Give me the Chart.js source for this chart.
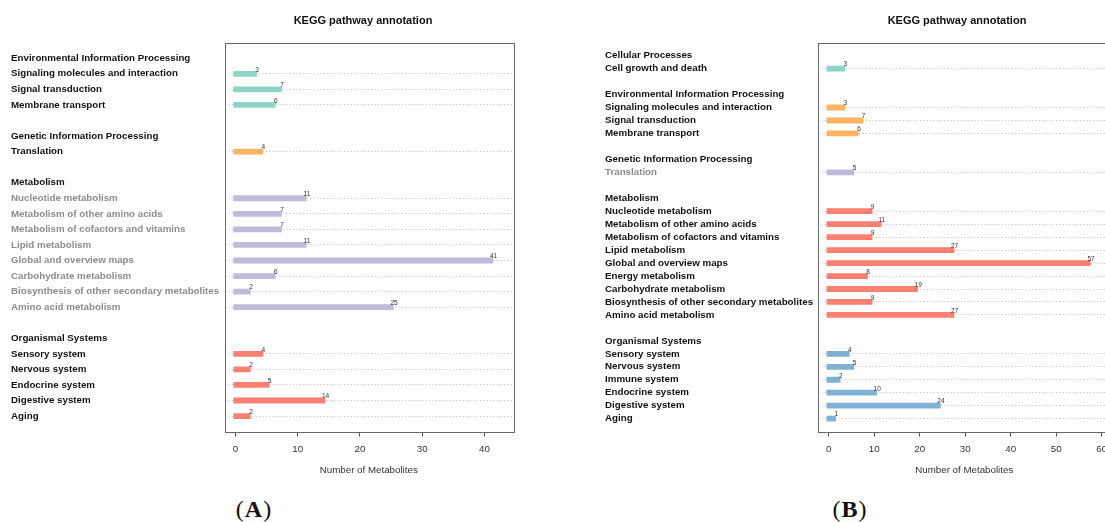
<!DOCTYPE html>
<html>
<head>
<meta charset="utf-8">
<script src="https://cdn.jsdelivr.net/npm/chart.js@4/dist/chart.umd.min.js"></script>
<style>
  html, body { margin: 0; padding: 0; background: #fff; overflow: hidden; }
  body { position: relative; width: 1105px; height: 522px; }
  canvas { position: absolute; top: 0; }
  .cap { position: absolute; top: 497px; width: 80px; text-align: center;
         font-family: 'Liberation Serif', 'DejaVu Serif', serif; font-size: 24px;
         line-height: 24px; letter-spacing: 1px; color: #111; }
</style>
</head>
<body>
<canvas id="chartA" width="704" height="476" style="left:11px"></canvas>
<canvas id="chartB" width="704" height="476" style="left:605px"></canvas>
<div class="cap" style="left:214px">(<b>A</b>)</div>
<div class="cap" style="left:810px">(<b>B</b>)</div>
<script>
// ---- Panel A: KEGG classes, pathways and metabolite counts ----
const classesA = ['Environmental Information Processing', 'Genetic Information Processing', 'Metabolism', 'Organismal Systems'];
const pathwaysA = [
  ['Signaling molecules and interaction', 'Signal transduction', 'Membrane transport'],
  ['Translation'],
  ['Nucleotide metabolism', 'Metabolism of other amino acids', 'Metabolism of cofactors and vitamins',
   'Lipid metabolism', 'Global and overview maps', 'Carbohydrate metabolism',
   'Biosynthesis of other secondary metabolites', 'Amino acid metabolism'],
  ['Sensory system', 'Nervous system', 'Endocrine system', 'Digestive system', 'Aging']
];
const countsA = [[3, 7, 6], [4], [11, 7, 7, 11, 41, 6, 2, 25], [4, 2, 5, 14, 2]];
const barColorsA = ['#8DD3C7', '#FDB462', '#BEBADA', '#FB8072'];
const greyClassA = [false, false, true, false];
const xTicksA = [0, 10, 20, 30, 40];

// ---- Panel B ----
const classesB = ['Cellular Processes', 'Environmental Information Processing', 'Genetic Information Processing', 'Metabolism', 'Organismal Systems'];
const pathwaysB = [
  ['Cell growth and death'],
  ['Signaling molecules and interaction', 'Signal transduction', 'Membrane transport'],
  ['Translation'],
  ['Nucleotide metabolism', 'Metabolism of other amino acids', 'Metabolism of cofactors and vitamins',
   'Lipid metabolism', 'Global and overview maps', 'Energy metabolism', 'Carbohydrate metabolism',
   'Biosynthesis of other secondary metabolites', 'Amino acid metabolism'],
  ['Sensory system', 'Nervous system', 'Immune system', 'Endocrine system', 'Digestive system', 'Aging']
];
const countsB = [[3], [3, 7, 6], [5], [9, 11, 9, 27, 57, 8, 19, 9, 27], [4, 5, 2, 10, 24, 1]];
const barColorsB = ['#8DD3C7', '#FDB462', '#BEBADA', '#FB8072', '#80B1D3'];
const greyClassB = [false, false, true, false, false];
const xTicksB = [0, 10, 20, 30, 40, 50, 60];

const FONT = "'Liberation Sans', Arial, Helvetica, sans-serif";
const INK = '#111111';
const GREY_INK = '#8c8c8c';

// Flatten classes into rows: class header, its pathways, blank spacer row.
function buildRows(classes, pathways, counts, colors, greyClass) {
  const labels = [''], values = [null], fills = ['rgba(0,0,0,0)'], inks = [INK];
  classes.forEach((cls, g) => {
    if (g > 0) { labels.push(''); values.push(null); fills.push('rgba(0,0,0,0)'); inks.push(INK); }
    labels.push(cls); values.push(null); fills.push('rgba(0,0,0,0)'); inks.push(INK);
    pathways[g].forEach((p, k) => {
      labels.push(p); values.push(counts[g][k]); fills.push(colors[g]);
      inks.push(greyClass[g] ? GREY_INK : INK);
    });
  });
  labels.push(''); values.push(null); fills.push('rgba(0,0,0,0)'); inks.push(INK);
  return { labels, values, fills, inks };
}

// Frame around the plotting region
const framePlugin = {
  id: 'frame',
  beforeDatasetsDraw(chart) {
    const { ctx, chartArea: a } = chart;
    ctx.save();
    ctx.strokeStyle = '#666';
    ctx.lineWidth = 1;
    ctx.strokeRect(Math.round(a.left) + 0.5, Math.round(a.top) + 0.5,
                   Math.round(a.right - a.left), Math.round(a.bottom - a.top));
    ctx.restore();
  }
};

// Count written just past the end of each bar
const countLabelPlugin = {
  id: 'countLabels',
  afterDatasetsDraw(chart) {
    const { ctx } = chart;
    const ds = chart.data.datasets[0];
    const meta = chart.getDatasetMeta(0);
    ctx.save();
    ctx.font = '6.5px ' + FONT;
    ctx.fillStyle = '#333';
    ctx.textAlign = 'center';
    ctx.textBaseline = 'middle';
    meta.data.forEach((el, i) => {
      const v = ds.data[i];
      if (v === null || v === undefined) return;
      ctx.fillText(String(v), el.x + 3, el.y - 4);
    });
    ctx.restore();
  }
};

function makeChart(id, rows, cfg) {
  return new Chart(document.getElementById(id), {
    type: 'bar',
    data: {
      labels: rows.labels,
      datasets: [{
        data: rows.values,
        backgroundColor: rows.fills,
        borderWidth: 0,
        barThickness: 0.4,
        inflateAmount: 2.7
      }]
    },
    options: {
      indexAxis: 'y',
      responsive: false,
      animation: false,
      events: [],
      layout: { padding: 0 },
      plugins: {
        legend: { display: false },
        tooltip: { enabled: false },
        title: {
          display: true,
          text: 'KEGG pathway annotation',
          color: INK,
          font: { family: FONT, size: 11, weight: 'bold' },
          padding: { top: 14.5, bottom: 15 }
        }
      },
      scales: {
        x: {
          type: 'linear',
          position: 'bottom',
          min: cfg.xMin,
          max: cfg.xMax,
          afterBuildTicks: (s) => { s.ticks = cfg.ticks.map(v => ({ value: v })); },
          grid: { drawOnChartArea: false, drawTicks: true, tickLength: 5, color: '#555', lineWidth: 1 },
          border: { display: false },
          ticks: { color: '#333', font: { family: FONT, size: 9.75 }, padding: 6.5, maxRotation: 0 },
          title: {
            display: true, text: 'Number of Metabolites', color: '#333',
            font: { family: FONT, size: 9.75 }, padding: { top: 3, bottom: 0 }
          }
        },
        y: {
          type: 'category',
          position: 'left',
          offset: false,
          afterFit: (s) => { s.width = cfg.yWidth; },
          grid: {
            offset: false,
            drawTicks: false,
            lineWidth: 1,
            color: (c) => (rows.values[c.index] !== null && rows.values[c.index] !== undefined) ? '#c4c4c4' : 'rgba(0,0,0,0)'
          },
          border: { display: false, dash: [1.2, 2.2] },
          ticks: {
            autoSkip: false,
            crossAlign: 'far',
            padding: 0,
            color: (c) => rows.inks[c.index],
            font: { family: FONT, size: 9.75, weight: 'bold' }
          }
        },
        yRight: {
          type: 'linear',
          position: 'right',
          afterFit: (s) => { s.width = cfg.rightWidth; },
          grid: { display: false },
          border: { display: false },
          ticks: { display: false }
        }
      }
    },
    plugins: [framePlugin, countLabelPlugin]
  });
}

const rowsA = buildRows(classesA, pathwaysA, countsA, barColorsA, greyClassA);
const rowsB = buildRows(classesB, pathwaysB, countsB, barColorsB, greyClassB);

makeChart('chartA', rowsA, { xMin: -1.77, xMax: 44.6, ticks: xTicksA, yWidth: 213.5, rightWidth: 202 });
makeChart('chartB', rowsB, { xMin: -2.42, xMax: 62, ticks: xTicksB, yWidth: 212.7, rightWidth: 198.2 });
</script>
</body>
</html>
